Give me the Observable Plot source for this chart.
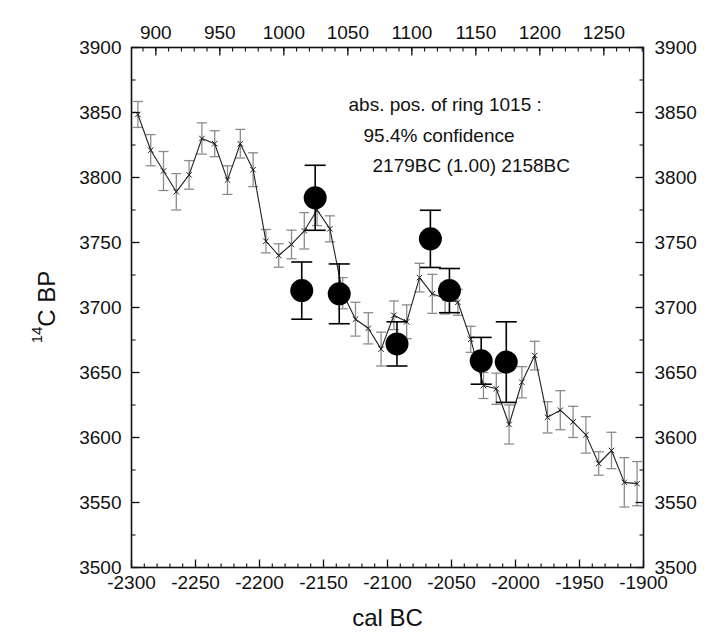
<!DOCTYPE html>
<html><head><meta charset="utf-8">
<script src="https://cdn.jsdelivr.net/npm/d3@7"></script>
<script src="https://cdn.jsdelivr.net/npm/@observablehq/plot@0.6"></script>
<style>
body{margin:0;background:#fff;}
#chart svg{font-family:"Liberation Sans",Arial,sans-serif;}
</style>
</head><body><div id="chart"></div>
<script>
// Calibration curve (decadal), cal BC vs 14C BP with 1-sigma errors
const curveCalBC = [-2295,-2285,-2275,-2265,-2255,-2245,-2235,-2225,-2215,-2205,
  -2195,-2185,-2175,-2165,-2155,-2145,-2135,-2125,-2115,-2105,
  -2095,-2085,-2075,-2065,-2055,-2045,-2035,-2025,-2015,-2005,
  -1995,-1985,-1975,-1965,-1955,-1945,-1935,-1925,-1915,-1905];
const curveC14 = [3848.5,3821,3805,3789,3802,3830,3826,3798,3826,3806,
  3751,3740,3748.5,3759,3775,3760.5,3711,3691,3684,3668,
  3694,3689,3723,3710.5,3707,3704,3675.5,3640,3637.5,3610,
  3642.5,3663,3615.5,3621,3612,3602,3580,3590,3565.5,3564.5];
const curveErr = [10,12,15,14,11,12,10,11,11,13,
  9,9,11,14,12,10,12,13,12,13,
  11,13,11,15,12,10,10,10,12,15,
  12,11,12,15,12,14,9,14,19,17];

// Wiggle-matched tree-ring samples
const sampleCalBC = [-2167,-2156.5,-2137.7,-2092.6,-2066.5,-2051.6,-2026.8,-2007.2];
const sampleC14 = [3713,3784.4,3710.5,3672,3752.8,3713,3659,3658];
const sampleErr = [22,25,23,17,22,17,18,31];

// Axis ticks
const calTicks = [-2300,-2250,-2200,-2150,-2100,-2050,-2000,-1950,-1900];
const c14Ticks = [3500,3550,3600,3650,3700,3750,3800,3850,3900];
const ringTicks = [900,950,1000,1050,1100,1150,1200,1250];
const ringOffset = 3181; // ring number = cal BC year + offset

const annotation = ["abs. pos. of ring 1015 :", "95.4% confidence", "2179BC (1.00) 2158BC"];

const curve = curveCalBC.map((x, i) => ({cal: x, c14: curveC14[i], err: curveErr[i]}));
const samples = sampleCalBC.map((x, i) => ({cal: x, c14: sampleC14[i], err: sampleErr[i]}));

const calMinor = d3.range(-2300, -1899, 10);
const c14Minor = d3.range(3500, 3901, 25);
const ringMinor = d3.range(880, 1311, 10).filter(r => r - ringOffset >= -2300 && r - ringOffset <= -1900);
const ringMajor = ringMinor.filter(r => r % 50 === 0);

const capSym = w => ({draw(ctx){ ctx.moveTo(-w, 0); ctx.lineTo(w, 0); }});
const vTick = len => ({draw(ctx){ ctx.moveTo(0, 0); ctx.lineTo(0, len); }});
const hTick = len => ({draw(ctx){ ctx.moveTo(0, 0); ctx.lineTo(len, 0); }});

const FS = 19;
const plot = Plot.plot({
  width: 707, height: 640,
  marginLeft: 131, marginRight: 64, marginTop: 47, marginBottom: 73,
  style: {fontFamily: "Liberation Sans, Arial, sans-serif", fontSize: FS + "px", background: "#fff", color: "#111"},
  x: {domain: [-2300, -1900]},
  y: {domain: [3500, 3900]},
  marks: [
    // calibration curve error bars
    Plot.ruleX(curve, {x: "cal", y1: d => d.c14 - d.err, y2: d => d.c14 + d.err, stroke: "#8c8c8c", strokeWidth: 1.3}),
    Plot.dot(curve, {x: "cal", y: d => d.c14 + d.err, symbol: capSym(5), r: 3, fill: "none", stroke: "#8c8c8c", strokeWidth: 1.3}),
    Plot.dot(curve, {x: "cal", y: d => d.c14 - d.err, symbol: capSym(5), r: 3, fill: "none", stroke: "#8c8c8c", strokeWidth: 1.3}),
    Plot.line(curve, {x: "cal", y: "c14", stroke: "#222", strokeWidth: 1.1}),
    Plot.dot(curve, {x: "cal", y: "c14", symbol: "times", r: 2.6, stroke: "#222", strokeWidth: 1}),
    // samples
    Plot.ruleX(samples, {x: "cal", y1: d => d.c14 - d.err, y2: d => d.c14 + d.err, stroke: "#000", strokeWidth: 1.6}),
    Plot.dot(samples, {x: "cal", y: d => d.c14 + d.err, symbol: capSym(10.5), r: 3, fill: "none", stroke: "#000", strokeWidth: 1.6}),
    Plot.dot(samples, {x: "cal", y: d => d.c14 - d.err, symbol: capSym(10.5), r: 3, fill: "none", stroke: "#000", strokeWidth: 1.6}),
    Plot.dot(samples, {x: "cal", y: "c14", r: 11.5, fill: "#000", stroke: "none"}),
    // frame
    Plot.frame({stroke: "#111", strokeWidth: 1.6}),
    // tick marks (inward)
    Plot.dot(calMinor, {x: d => d, frameAnchor: "bottom", symbol: vTick(-4), r: 3, fill: "none", stroke: "#111", strokeWidth: 1.1}),
    Plot.dot(calTicks, {x: d => d, frameAnchor: "bottom", symbol: vTick(-8), r: 3, fill: "none", stroke: "#111", strokeWidth: 1.3}),
    Plot.dot(ringMinor, {x: r => r - ringOffset, frameAnchor: "top", symbol: vTick(4), r: 3, fill: "none", stroke: "#111", strokeWidth: 1.1}),
    Plot.dot(ringMajor, {x: r => r - ringOffset, frameAnchor: "top", symbol: vTick(8), r: 3, fill: "none", stroke: "#111", strokeWidth: 1.3}),
    Plot.dot(c14Minor, {y: d => d, frameAnchor: "left", symbol: hTick(4), r: 3, fill: "none", stroke: "#111", strokeWidth: 1.1}),
    Plot.dot(c14Ticks, {y: d => d, frameAnchor: "left", symbol: hTick(8), r: 3, fill: "none", stroke: "#111", strokeWidth: 1.3}),
    Plot.dot(c14Minor, {y: d => d, frameAnchor: "right", symbol: hTick(-4), r: 3, fill: "none", stroke: "#111", strokeWidth: 1.1}),
    Plot.dot(c14Ticks, {y: d => d, frameAnchor: "right", symbol: hTick(-8), r: 3, fill: "none", stroke: "#111", strokeWidth: 1.3}),
    // tick labels
    Plot.axisX({anchor: "bottom", ticks: calTicks, tickSize: 0, tickPadding: 8, tickFormat: d => String(d), label: null, fontSize: FS}),
    Plot.axisY({anchor: "left", ticks: c14Ticks, tickSize: 0, tickPadding: 10, tickFormat: d => String(d), label: null, fontSize: FS}),
    Plot.axisY({anchor: "right", ticks: c14Ticks, tickSize: 0, tickPadding: 11, tickFormat: d => String(d), label: null, fontSize: FS}),
    Plot.text(ringTicks, {x: r => r - ringOffset, frameAnchor: "top", dy: -22, text: d => String(d), fontSize: FS, fill: "#111"}),
    // axis title
    Plot.text(["cal BC"], {frameAnchor: "bottom", dy: 58, text: d => d, fontSize: 24, fill: "#111"}),
    // annotation
    Plot.text([annotation[0]], {frameAnchor: "top-left", dx: 217, dy: 50, text: d => d, textAnchor: "start", fontSize: FS, fill: "#111"}),
    Plot.text([annotation[1]], {frameAnchor: "top-left", dx: 232, dy: 81, text: d => d, textAnchor: "start", fontSize: FS, fill: "#111"}),
    Plot.text([annotation[2]], {frameAnchor: "top-left", dx: 241, dy: 111, text: d => d, textAnchor: "start", fontSize: FS, fill: "#111"})
  ]
});
document.getElementById("chart").appendChild(plot);

// y-axis title with superscript
const svg = d3.select(plot);
const yt = svg.append("text")
  .attr("transform", "translate(45,307) rotate(-90)")
  .attr("text-anchor", "middle")
  .attr("dominant-baseline", "middle")
  .attr("font-size", 24)
  .attr("fill", "#111");
yt.append("tspan").attr("font-size", 15).attr("dy", "-0.45em").text("14");
yt.append("tspan").attr("dy", "0.45em").text("C BP");
</script>
</body></html>
